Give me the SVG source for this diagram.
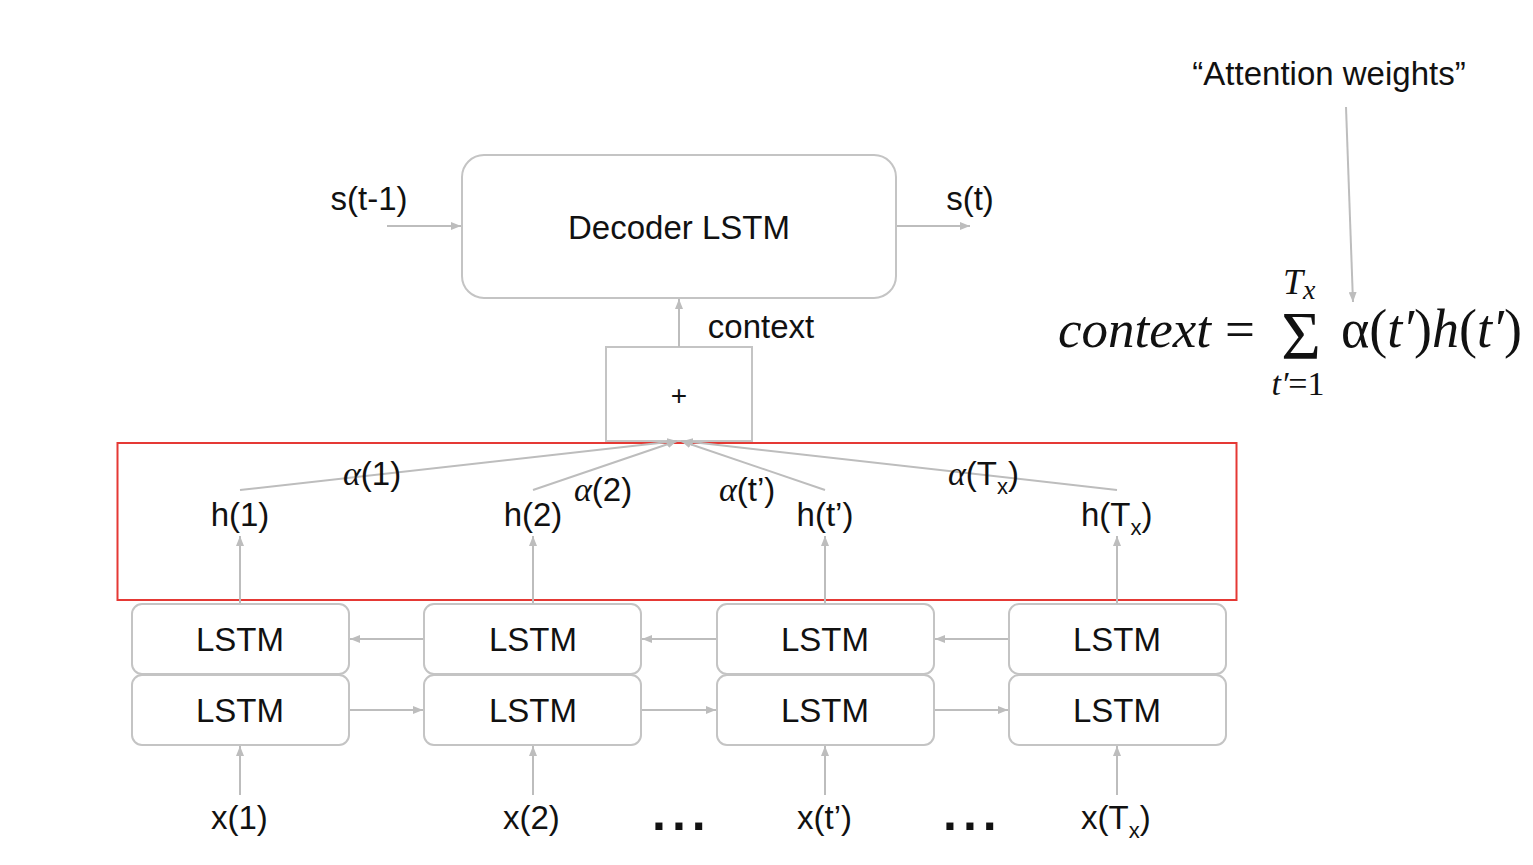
<svg xmlns="http://www.w3.org/2000/svg" width="1533" height="865" viewBox="0 0 1533 865">
<style>
.box{fill:#fff;stroke:#c4c4c4;stroke-width:2}
.ln{stroke:#bdbdbd;stroke-width:2;fill:none}
.t{font-family:"Liberation Sans",Arial,sans-serif;font-size:33px;fill:#111;text-anchor:middle}
.m{font-family:"Liberation Serif","Times New Roman",serif;fill:#111}
.sub{font-size:22px}
.dots{font-family:"Liberation Sans",Arial,sans-serif;font-size:50px;font-weight:bold;fill:#111;letter-spacing:6px}
</style>
<defs>
<marker id="ah" markerUnits="userSpaceOnUse" markerWidth="10" markerHeight="8" refX="10" refY="4" orient="auto">
<path d="M0,0 L10,4 L0,8 z" fill="#bdbdbd"/>
</marker>
</defs>
<rect width="1533" height="865" fill="#fff"/>

<g id="decoder">
<rect class="box" x="462" y="155" width="434" height="143" rx="22"/>
<text class="t" x="679" y="239">Decoder LSTM</text>
</g>
<g id="plus">
<rect class="box" x="606" y="347" width="146" height="94"/>
<text class="t" x="679" y="405" style="font-size:28px">+</text>
</g>
<g id="attention-region">
<rect x="117.5" y="443" width="1119" height="157" fill="none" stroke="#e53935" stroke-width="2"/>
</g>

<g id="connectors">
<line class="ln" x1="387" y1="226" x2="461" y2="226" marker-end="url(#ah)"/>
<line class="ln" x1="897" y1="226" x2="970" y2="226" marker-end="url(#ah)"/>
<line class="ln" x1="679" y1="347" x2="679" y2="299" marker-end="url(#ah)"/>
<line class="ln" x1="240" y1="490" x2="677" y2="441" marker-end="url(#ah)"/>
<line class="ln" x1="533" y1="490" x2="677" y2="441" marker-end="url(#ah)"/>
<line class="ln" x1="825" y1="490" x2="681" y2="441" marker-end="url(#ah)"/>
<line class="ln" x1="1117" y1="490" x2="683" y2="441" marker-end="url(#ah)"/>
<line class="ln" x1="240" y1="604" x2="240" y2="536" marker-end="url(#ah)"/>
<line class="ln" x1="533" y1="604" x2="533" y2="536" marker-end="url(#ah)"/>
<line class="ln" x1="825" y1="604" x2="825" y2="536" marker-end="url(#ah)"/>
<line class="ln" x1="1117" y1="604" x2="1117" y2="536" marker-end="url(#ah)"/>
<line class="ln" x1="424" y1="639" x2="350" y2="639" marker-end="url(#ah)"/>
<line class="ln" x1="717" y1="639" x2="642" y2="639" marker-end="url(#ah)"/>
<line class="ln" x1="1009" y1="639" x2="935" y2="639" marker-end="url(#ah)"/>
<line class="ln" x1="349" y1="710" x2="423" y2="710" marker-end="url(#ah)"/>
<line class="ln" x1="641" y1="710" x2="716" y2="710" marker-end="url(#ah)"/>
<line class="ln" x1="934" y1="710" x2="1008" y2="710" marker-end="url(#ah)"/>
<line class="ln" x1="240" y1="795" x2="240" y2="746" marker-end="url(#ah)"/>
<line class="ln" x1="533" y1="795" x2="533" y2="746" marker-end="url(#ah)"/>
<line class="ln" x1="825" y1="795" x2="825" y2="746" marker-end="url(#ah)"/>
<line class="ln" x1="1117" y1="795" x2="1117" y2="746" marker-end="url(#ah)"/>
<line class="ln" x1="1346" y1="107" x2="1353" y2="302" marker-end="url(#ah)"/>
</g>

<g id="lstm-top-1"><rect class="box" x="132" y="604" width="217" height="70" rx="10"/><text class="t" x="240" y="651">LSTM</text></g>
<g id="lstm-top-2"><rect class="box" x="424" y="604" width="217" height="70" rx="10"/><text class="t" x="533" y="651">LSTM</text></g>
<g id="lstm-top-3"><rect class="box" x="717" y="604" width="217" height="70" rx="10"/><text class="t" x="825" y="651">LSTM</text></g>
<g id="lstm-top-4"><rect class="box" x="1009" y="604" width="217" height="70" rx="10"/><text class="t" x="1117" y="651">LSTM</text></g>
<g id="lstm-bot-1"><rect class="box" x="132" y="675" width="217" height="70" rx="10"/><text class="t" x="240" y="722">LSTM</text></g>
<g id="lstm-bot-2"><rect class="box" x="424" y="675" width="217" height="70" rx="10"/><text class="t" x="533" y="722">LSTM</text></g>
<g id="lstm-bot-3"><rect class="box" x="717" y="675" width="217" height="70" rx="10"/><text class="t" x="825" y="722">LSTM</text></g>
<g id="lstm-bot-4"><rect class="box" x="1009" y="675" width="217" height="70" rx="10"/><text class="t" x="1117" y="722">LSTM</text></g>

<g id="labels">
<text class="t" x="369" y="210">s(t-1)</text>
<text class="t" x="970" y="210">s(t)</text>
<text class="t" x="761" y="338">context</text>
<text class="t" x="240" y="526">h(1)</text>
<text class="t" x="533" y="526">h(2)</text>
<text class="t" x="825" y="526">h(t’)</text>
<text class="t" x="1081" y="526" style="text-anchor:start">h(T<tspan class="sub" dy="9">x</tspan><tspan dy="-9">)</tspan></text>
<text class="t" x="211" y="829" style="text-anchor:start">x(1)</text>
<text class="t" x="503" y="829" style="text-anchor:start">x(2)</text>
<text class="t" x="797" y="829" style="text-anchor:start">x(t’)</text>
<text class="t" x="1081" y="829" style="text-anchor:start">x(T<tspan class="sub" dy="9">x</tspan><tspan dy="-9">)</tspan></text>
<text class="dots" x="652" y="830">...</text>
<text class="dots" x="943" y="830">...</text>
<text class="t" x="343" y="485" style="text-anchor:start"><tspan class="m" style="font-style:italic;font-size:34px">α</tspan>(1)</text>
<text class="t" x="574" y="501" style="text-anchor:start"><tspan class="m" style="font-style:italic;font-size:34px">α</tspan>(2)</text>
<text class="t" x="719" y="501" style="text-anchor:start"><tspan class="m" style="font-style:italic;font-size:34px">α</tspan>(t’)</text>
<text class="t" x="948" y="485" style="text-anchor:start"><tspan class="m" style="font-style:italic;font-size:34px">α</tspan>(T<tspan class="sub" dy="9">x</tspan><tspan dy="-9">)</tspan></text>
<text class="t" x="1329" y="85">“Attention weights”</text>
</g>

<g id="formula">
<text class="m" x="1058" y="347" style="font-size:53px;font-style:italic">context</text>
<text class="m" x="1225" y="347" style="font-size:53px">=</text>
<text class="m" x="1301" y="358" style="font-size:68px;text-anchor:middle">Σ</text>
<text class="m" x="1283" y="294" style="font-size:36px;font-style:italic">T<tspan dy="5" style="font-size:28px">x</tspan></text>
<text class="m" x="1298" y="395" style="font-size:34px;text-anchor:middle"><tspan style="font-style:italic">t′</tspan>=1</text>
<text class="m" x="1341" y="347" style="font-size:54px">α(<tspan style="font-style:italic">t′</tspan>)<tspan style="font-style:italic">h</tspan>(<tspan style="font-style:italic">t′</tspan>)</text>
</g>
</svg>
